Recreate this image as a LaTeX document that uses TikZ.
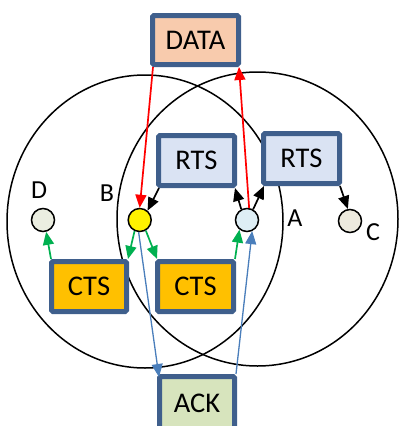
\documentclass[tikz,border=0pt]{standalone}
\usepackage{fontspec}
\setmainfont{Carlito}
\usetikzlibrary{arrows.meta}
\definecolor{bord}{RGB}{63,95,140}
\definecolor{rtsfill}{RGB}{218,227,243}
\definecolor{ctsfill}{RGB}{255,192,0}
\definecolor{ackfill}{RGB}{215,228,189}
\definecolor{datafill}{RGB}{248,203,173}
\definecolor{dfill}{RGB}{235,238,225}
\definecolor{cfill}{RGB}{237,234,222}
\definecolor{afill}{RGB}{222,238,245}
\definecolor{gr}{RGB}{0,176,80}
\definecolor{bl}{RGB}{74,126,187}
\tikzset{
  pkt/.style={draw=bord, line width=5pt, rounded corners=1.5pt, inner sep=0pt,
    font=\fontsize{28.5}{30}\selectfont},
  sta/.style={circle, draw=black, line width=1.5pt, minimum size=23pt, inner sep=0pt},
  lab/.style={font=\fontsize{26}{28}\selectfont, inner sep=0pt},
  arr/.style={line width=1.7pt, -{Triangle[length=13pt,width=11pt]}},
}
\begin{document}
\begin{tikzpicture}[x=1pt,y=-1pt]
\useasboundingbox (0,0) rectangle (399,426);
\clip (0,0) rectangle (399,426);
% range circles
\draw[line width=1.5pt] (145,221.5) ellipse [x radius=138pt, y radius=146.5pt];
\draw[line width=1.5pt] (257.5,219) ellipse [x radius=140.5pt, y radius=147pt];
% stations
\node[sta, fill=dfill] (D) at (43,220) {};
\node[sta, fill=yellow] (B) at (139.7,220) {};
\node[sta, fill=afill] (A) at (247,220) {};
\node[sta, fill=cfill] (C) at (350,221) {};
\node[lab] (lD) at (39,190) {D};
\node[lab] (lB) at (107,193) {B};
\node[lab] (lA) at (295,218) {A};
\node[lab] (lC) at (373,232) {C};
% packets
\node[pkt, fill=datafill, minimum width=86pt, minimum height=49pt] (data) at (195.5,40) {DATA};
\node[pkt, fill=rtsfill, minimum width=76pt, minimum height=50pt] (rtsl) at (196.5,160.5) {RTS};
\node[pkt, fill=rtsfill, minimum width=76pt, minimum height=50pt] (rtsr) at (301.5,158.5) {RTS};
\node[pkt, fill=ctsfill, minimum width=75pt, minimum height=50pt] (ctsl) at (89,286.5) {CTS};
\node[pkt, fill=ctsfill, minimum width=76pt, minimum height=50pt] (ctsr) at (195.5,286.5) {CTS};
\node[pkt, fill=ackfill, minimum width=75pt, minimum height=53pt] (ack) at (197,403) {ACK};
% red DATA arrows
\draw[arr, red] ([xshift=3pt]data.south west) -- (B.north);
\draw[arr, red] (A.80) -- ([xshift=-2pt]data.south east);
% black RTS arrows
\draw[arr, black] ([xshift=3pt]rtsl.south west) -- (B.50);
\draw[arr, black] (A.118) -- ([xshift=-2pt]rtsl.south east);
\draw[arr, black] (A.60) -- ([xshift=3pt]rtsr.south west);
\draw[arr, black] ([xshift=-2pt]rtsr.south east) -- (C.100);
% green CTS arrows
\draw[arr, gr] ([xshift=2pt]ctsl.north west) -- (D.-75);
\draw[arr, gr] (B.245) -- ([xshift=-1pt]ctsl.north east);
\draw[arr, gr] (B.-60) -- ([xshift=2pt]ctsr.north west);
\draw[arr, gr] ([xshift=-1pt]ctsr.north east) -- (A.232);
% blue ACK arrows
\draw[arr, bl, line width=1.3pt] (B.-95) -- ([xshift=2pt,yshift=-3pt]ack.north west);
\draw[arr, bl, line width=1.3pt] ([xshift=-1pt]ack.north east) -- (A.-65);
\end{tikzpicture}
\end{document}
